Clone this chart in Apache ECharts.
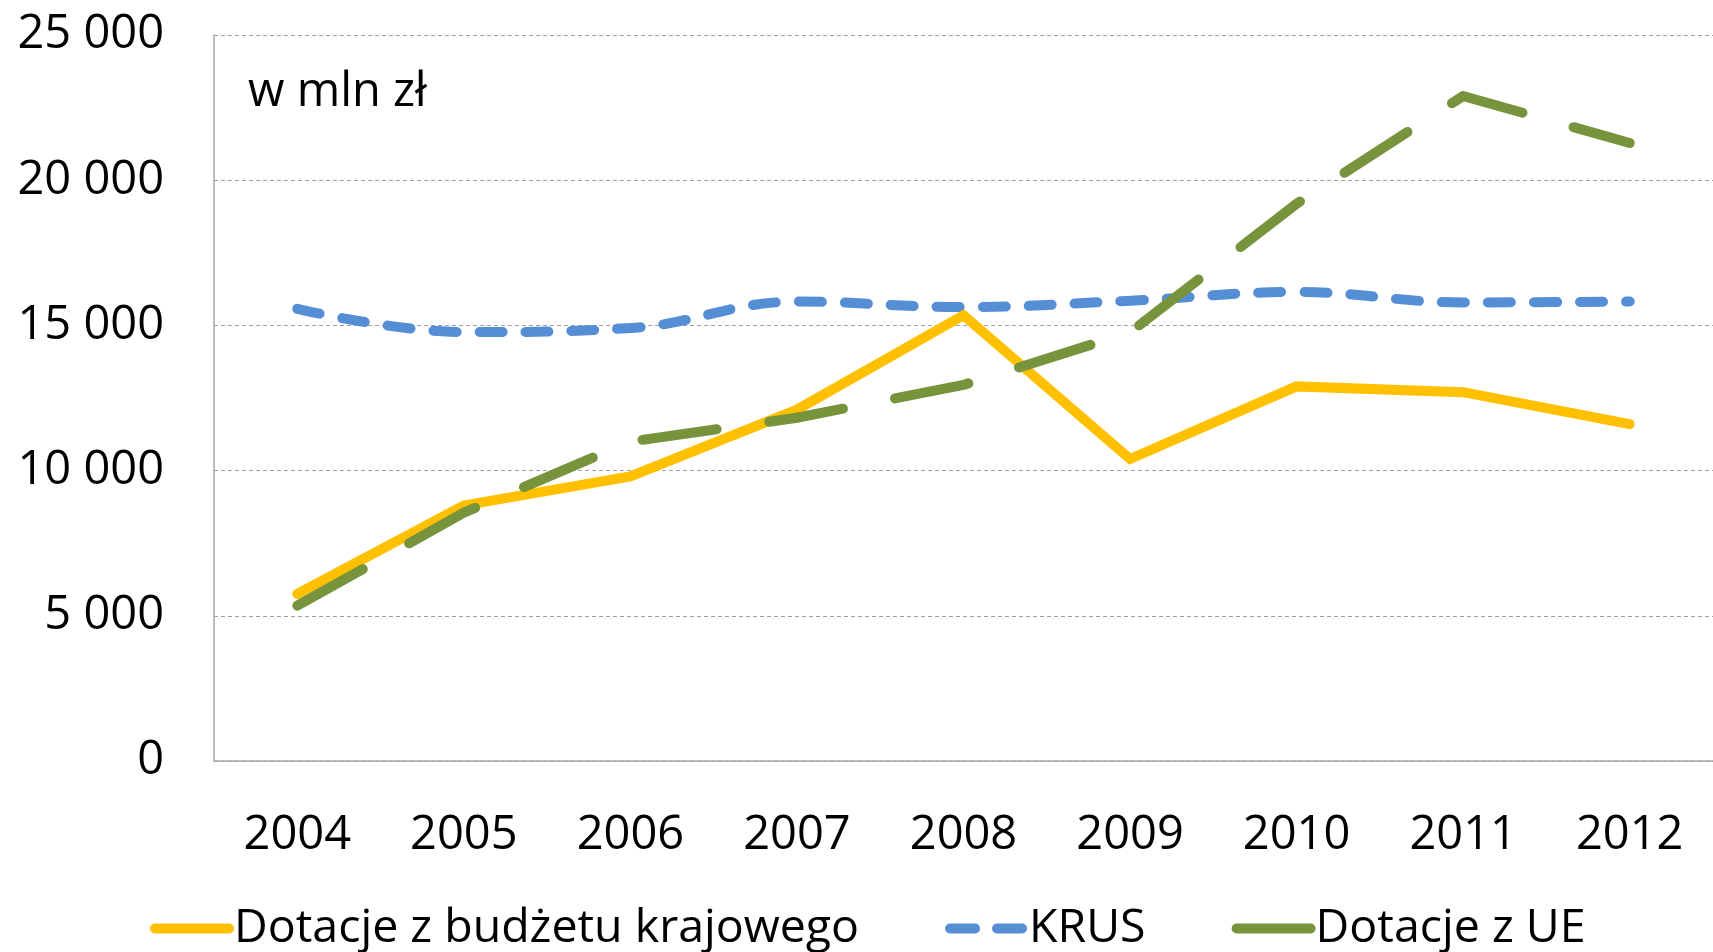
<!DOCTYPE html>
<html>
<head>
<meta charset="utf-8">
<script src="https://cdn.jsdelivr.net/npm/echarts@6/dist/echarts.min.js"></script>
<style>
  html, body { margin: 0; padding: 0; background: #fff; }
  #chart { width: 1713px; height: 952px; }
</style>
</head>
<body>
<div id="chart"></div>
<script>
const years = ["2004", "2005", "2006", "2007", "2008", "2009", "2010", "2011", "2012"];
const budzet = [5750, 8800, 9800, 12100, 15350, 10400, 12900, 12700, 11600];
const krus = [15570, 14770, 14910, 15820, 15630, 15850, 16150, 15790, 15820];
const ue = [5350, 8550, 11000, 11820, 12950, 14760, 19190, 22900, 21280];
const names = ["Dotacje z budżetu krajowego", "KRUS", "Dotacje z UE"];

const font = "Open Sans";
const chart = echarts.init(document.getElementById("chart"));

chart.setOption({
  animation: false,
  textStyle: { fontFamily: font },
  title: {
    text: "w mln zł",
    left: 243,
    top: 64,
    textStyle: { fontFamily: font, fontSize: 47, fontWeight: "normal", color: "#000" }
  },
  legend: {
    left: 145,
    top: 900,
    itemWidth: 74,
    itemHeight: 10,
    itemGap: 86,
    itemStyle: { opacity: 0 },
    textStyle: { fontFamily: font, fontSize: 46.5, color: "#000" },
    data: [
      { name: names[0], lineStyle: { color: "#FFC000", width: 10, cap: "round" } },
      { name: names[1], lineStyle: { color: "#558ED5", width: 10, type: [25, 22], cap: "round" } },
      { name: names[2], lineStyle: { color: "#77933C", width: 10, type: "solid", cap: "round" } }
    ]
  },
  grid: { left: 214, right: 0, top: 35, bottom: 191 },
  xAxis: {
    type: "category",
    data: years,
    boundaryGap: true,
    axisLine: { lineStyle: { color: "#a6a6a6", width: 1.5 } },
    axisTick: { show: false },
    axisLabel: { color: "#000", fontSize: 47, margin: 51, fontFamily: font }
  },
  yAxis: {
    type: "value",
    min: 0,
    max: 25000,
    interval: 5000,
    axisLine: { show: true, lineStyle: { color: "#a6a6a6", width: 1.5 } },
    axisTick: { show: false },
    splitLine: { lineStyle: { color: "#a0a0a0", width: 1.2, type: [4, 3] } },
    axisLabel: {
      color: "#000",
      fontSize: 47,
      margin: 50,
      fontFamily: font,
      formatter: v => v === 0 ? "0" : String(v).replace(/\B(?=(\d{3})+(?!\d))/g, " ")
    }
  },
  series: [
    {
      name: names[0],
      type: "line",
      data: budzet,
      symbol: "none",
      z: 3,
      lineStyle: { color: "#FFC000", width: 10, cap: "round", join: "miter" },
      itemStyle: { color: "#FFC000" }
    },
    {
      name: names[1],
      type: "line",
      data: krus,
      symbol: "none",
      smooth: 0.4,
      z: 2,
      lineStyle: { color: "#558ED5", width: 10, type: [23, 23], cap: "round" },
      itemStyle: { color: "#558ED5" }
    },
    {
      name: names[2],
      type: "line",
      data: ue,
      symbol: "none",
      z: 4,
      lineStyle: { color: "#77933C", width: 10, type: [75, 53], cap: "round", join: "round" },
      itemStyle: { color: "#77933C" }
    }
  ]
});
</script>
</body>
</html>
